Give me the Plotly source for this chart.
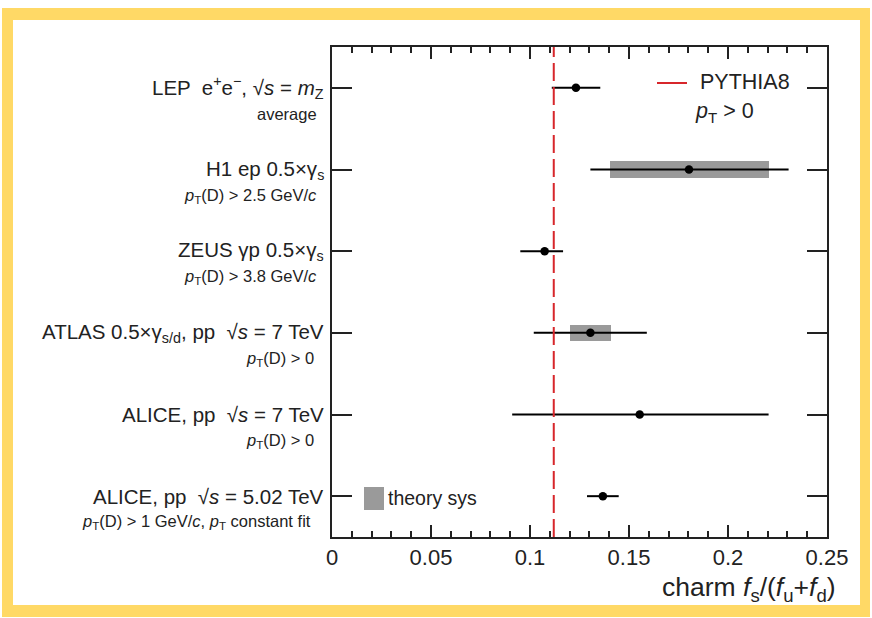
import plotly.graph_objects as go

# ---------------- data ----------------
labels_main = [
    "LEP  e<sup>+</sup>e<sup>−</sup>, √<i>s</i> = <i>m</i><sub>Z</sub>",
    "H1 ep 0.5×γ<sub>s</sub>",
    "ZEUS γp 0.5×γ<sub>s</sub>",
    "ATLAS 0.5×γ<sub>s/d</sub>, pp  √<i>s</i> = 7 TeV",
    "ALICE, pp  √<i>s</i> = 7 TeV",
    "ALICE, pp  √<i>s</i> = 5.02 TeV",
]
labels_sub = [
    "average",
    "<i>p</i><sub>T</sub>(D) > 2.5 GeV/<i>c</i>",
    "<i>p</i><sub>T</sub>(D) > 3.8 GeV/<i>c</i>",
    "<i>p</i><sub>T</sub>(D) > 0",
    "<i>p</i><sub>T</sub>(D) > 0",
    "<i>p</i><sub>T</sub>(D) > 1 GeV/<i>c</i>, <i>p</i><sub>T</sub> constant fit",
]
values = [0.1232, 0.1803, 0.1074, 0.1305, 0.1554, 0.1368]
err_lo = [0.1110, 0.1305, 0.0951, 0.1019, 0.0910, 0.1288]
err_hi = [0.1355, 0.2306, 0.1167, 0.1590, 0.2205, 0.1448]
# theory systematics boxes (only H1 and ATLAS)
sys_idx = [1, 3]
sys_lo = [0.1402, 0.1204]
sys_hi = [0.2205, 0.1409]
pythia8 = 0.112

x_ticks = [0, 0.05, 0.1, 0.15, 0.2, 0.25]
x_ticktext = ["0", "0.05", "0.1", "0.15", "0.2", "0.25"]

# ---------------- layout geometry ----------------
W, H = 872, 618
L, R, T, B = 332, 827, 47, 537
FONT = "Liberation Sans, Arial, sans-serif"
sub_right = [317, 317, 317, 314, 314, 311]


def px(xp):
    return (xp - L) / (R - L)


def py(yp):
    return (B - yp) / (B - T)


ypos = list(range(len(values)))

fig = go.Figure()

# theory sys boxes
fig.add_trace(go.Bar(
    y=sys_idx,
    x=[h - l for l, h in zip(sys_lo, sys_hi)],
    base=sys_lo,
    orientation="h",
    width=0.2,
    marker=dict(color="#9a9a9a", line=dict(width=0)),
    showlegend=False,
    hoverinfo="skip",
))

# data points with errors
fig.add_trace(go.Scatter(
    x=values,
    y=ypos,
    mode="markers",
    marker=dict(color="black", size=8.5),
    error_x=dict(
        type="data",
        symmetric=False,
        array=[h - v for v, h in zip(values, err_hi)],
        arrayminus=[v - l for v, l in zip(values, err_lo)],
        color="black",
        thickness=2,
        width=0,
    ),
    showlegend=False,
))

shapes = [
    # yellow frame
    dict(type="rect", xref="paper", yref="paper",
         x0=px(2), x1=px(870), y0=py(617), y1=py(8),
         fillcolor="#FFD966", line=dict(width=0), layer="below"),
    dict(type="rect", xref="paper", yref="paper",
         x0=px(13), x1=px(860), y0=py(605), y1=py(20),
         fillcolor="white", line=dict(width=0), layer="below"),
    # PYTHIA8 dashed line
    dict(type="line", xref="x", yref="paper", x0=pythia8, x1=pythia8,
         y0=0, y1=1, line=dict(color="#d7262b", width=2, dash="18px,6px")),
    # legend glyph for PYTHIA8
    dict(type="line", xref="paper", yref="paper",
         x0=px(657), x1=px(687), y0=py(83), y1=py(83),
         line=dict(color="#d7262b", width=2)),
    # legend glyph for theory sys
    dict(type="rect", xref="paper", yref="paper",
         x0=px(364), x1=px(384), y0=py(510), y1=py(487),
         fillcolor="#9a9a9a", line=dict(width=0)),
]

annotations = []
for i, (m, s) in enumerate(zip(labels_main, labels_sub)):
    annotations.append(dict(
        x=px(326), y=i, xref="paper", yref="y", text=m, showarrow=False,
        xanchor="right", yanchor="middle",
        font=dict(family=FONT, size=20.5, color="#222")))
    annotations.append(dict(
        x=px(sub_right[i] + 2), y=i + 0.32, xref="paper", yref="y", text=s,
        showarrow=False, xanchor="right", yanchor="middle",
        font=dict(family=FONT, size=16.5, color="#222")))

annotations += [
    dict(x=px(698), y=py(82), xref="paper", yref="paper", text="PYTHIA8",
         showarrow=False, xanchor="left", yanchor="middle",
         font=dict(family=FONT, size=21.5, color="#222")),
    dict(x=px(693), y=py(112), xref="paper", yref="paper",
         text="<i>p</i><sub>T</sub> > 0",
         showarrow=False, xanchor="left", yanchor="middle",
         font=dict(family=FONT, size=21.5, color="#222")),
    dict(x=px(386), y=py(498), xref="paper", yref="paper", text="theory sys",
         showarrow=False, xanchor="left", yanchor="middle",
         font=dict(family=FONT, size=19.5, color="#222")),
    dict(x=px(838), y=py(589), xref="paper", yref="paper",
         text="charm <i>f</i><sub>s</sub>/(<i>f</i><sub>u</sub>+<i>f</i><sub>d</sub>)",
         showarrow=False, xanchor="right", yanchor="middle",
         font=dict(family=FONT, size=26.5, color="#222")),
]

fig.update_layout(
    width=W, height=H,
    margin=dict(l=L, r=W - R, t=T, b=H - B, pad=0),
    paper_bgcolor="white",
    plot_bgcolor="white",
    showlegend=False,
    bargap=0,
    shapes=shapes,
    annotations=annotations,
    xaxis=dict(
        range=[0, 0.25],
        tickvals=x_ticks, ticktext=x_ticktext,
        ticks="inside", ticklen=12, tickwidth=1.5, tickcolor="#222",
        minor=dict(dtick=0.01, ticks="inside", ticklen=6, tickwidth=1.5, tickcolor="#222"),
        showline=True, linewidth=2, linecolor="#222", mirror="allticks",
        showgrid=False, zeroline=False,
        tickfont=dict(family=FONT, size=22, color="#222"),
    ),
    yaxis=dict(
        range=[5.5, -0.5],
        tickvals=ypos,
        showticklabels=False,
        ticks="inside", ticklen=20, tickwidth=2, tickcolor="#222",
        showline=True, linewidth=2, linecolor="#222", mirror="allticks",
        showgrid=False, zeroline=False,
    ),
)

fig.write_html("out.html")
